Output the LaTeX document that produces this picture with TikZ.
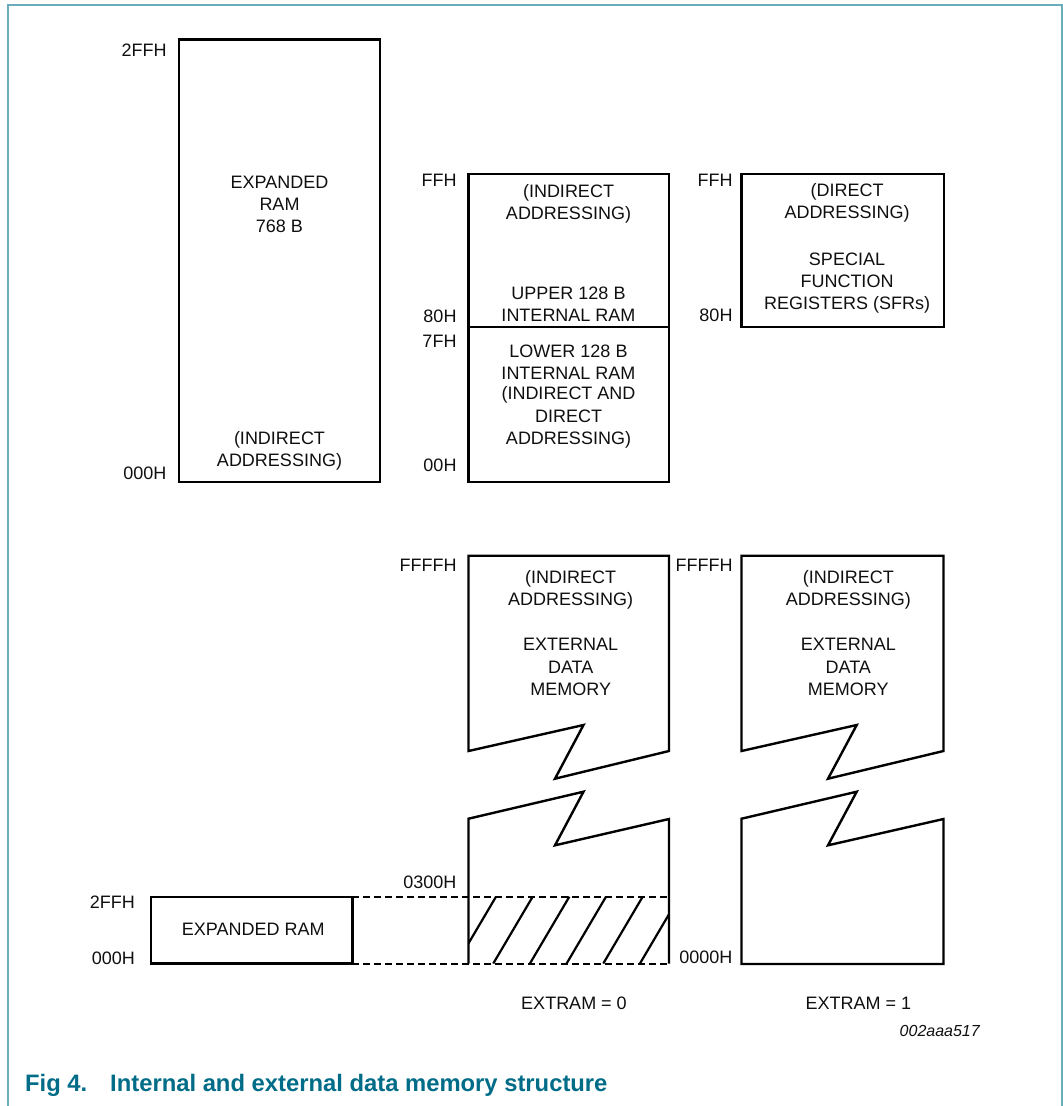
\documentclass[tikz,border=0pt]{standalone}
\usepackage{fontspec}
\setmainfont{Liberation Sans}
\definecolor{framecol}{RGB}{105,172,188}
\definecolor{capcol}{RGB}{0,108,135}
\definecolor{inkcol}{RGB}{15,15,15}
\begin{document}
\begin{tikzpicture}[x=1pt,y=-1pt,
  box/.style={draw=black,line width=2.4pt,line join=miter},
  dashln/.style={draw=black,line width=2pt,dash pattern=on 7pt off 4pt},
  hatchln/.style={draw=black,line width=2.2pt},
  lbl/.style={anchor=east,inner sep=0pt,text=inkcol,font=\fontsize{18}{22}\selectfont},
  txt/.style={align=center,inner sep=0pt,text=inkcol,font=\fontsize{18}{22.3}\selectfont},
  bottxt/.style={anchor=center,inner sep=0pt,text=inkcol,font=\fontsize{18}{20}\selectfont},
  captxt/.style={anchor=west,inner sep=0pt,text=capcol,font=\bfseries\fontsize{23.8}{26}\selectfont}]
\useasboundingbox (0,0) rectangle (1063,1106);
% frame
\draw[framecol,line width=1.8pt] (8.3,1106) -- (8.3,4.7) -- (1061.7,4.7) -- (1061.7,1106);

% ---------- expanded RAM 768 B ----------
\coordinate (e1) at (179,39.3);
\coordinate (e2) at (380,481.7);
\draw[box] (e1) rectangle (e2);
\node[txt] (etxt) at (279.5,204.5) {EXPANDED\\RAM\\768 B};
\node[txt] (eind) at (279.5,451) {(INDIRECT\\ADDRESSING)};
\node[lbl] (l2ffh) at (166.7,50) {2FFH};
\node[lbl] (l000h) at (166.7,473.3) {000H};

% ---------- internal RAM ----------
\coordinate (i1) at (468.5,174);
\coordinate (i2) at (669,481.7);
\draw[box] (i1) rectangle (i2);
\draw[box] (468.5,326.7) -- (669,326.7);
\node[txt] (iind) at (568.5,203.5) {(INDIRECT\\ADDRESSING)};
\node[txt] (iup) at (568.5,304.5) {UPPER 128 B\\INTERNAL RAM};
\node[txt] (ilow) at (568.5,362) {LOWER 128 B\\INTERNAL RAM};
\node[txt] (iid) at (568.5,417.5) {(INDIRECT AND\\DIRECT\\ADDRESSING)};
\node[lbl] (lffh1) at (456.7,180.7) {FFH};
\node[lbl] (l80h1) at (456.7,316.7) {80H};
\node[lbl] (l7fh) at (456.7,341.7) {7FH};
\node[lbl] (l00h) at (456.7,465) {00H};

% ---------- SFR ----------
\coordinate (s1) at (741.5,174);
\coordinate (s2) at (944,326.7);
\draw[box] (s1) rectangle (s2);
\node[txt] (sdir) at (847,202.5) {(DIRECT\\ADDRESSING)};
\node[txt] (ssfr) at (847,283) {SPECIAL\\FUNCTION\\REGISTERS (SFRs)};
\node[lbl] (lffh2) at (732.7,180.7) {FFH};
\node[lbl] (l80h2) at (732.7,315) {80H};

% ---------- external memory, EXTRAM = 0 ----------
\draw[box] (468.5,751) -- (468.5,555.7) -- (669,555.7) -- (669,751)
  -- (555,778.7) -- (583.5,725) -- cycle;
\draw[box] (468.5,963.5) -- (468.5,818.7) -- (583.5,791.7) -- (555,845.3)
  -- (669,819) -- (669,963.5);
\node[txt] (x0ind) at (570.7,590) {(INDIRECT\\ADDRESSING)};
\node[txt] (x0mem) at (570.7,667) {EXTERNAL\\DATA\\MEMORY};
\node[lbl] (lffffh0) at (456.7,565) {FFFFH};
\node[lbl] (l0300h) at (456.7,882.7) {0300H};
\node[bottxt] (ex0) at (574,1003.3) {EXTRAM = 0};

% hatching
\begin{scope}
  \clip (468.5,896.7) rectangle (669,963.5);
  \foreach \t in {0,1,2,3,4,5}{
    \draw[hatchln] ({496+36.67*\t},896.7) -- ({496+36.67*\t-39.4},963.5);
  }
\end{scope}

% ---------- external memory, EXTRAM = 1 ----------
\draw[box] (741.5,751) -- (741.5,555.7) -- (943.5,555.7) -- (943.5,751)
  -- (828,778.7) -- (856.7,725) -- cycle;
\draw[box] (741.5,818.7) -- (856.7,791.7) -- (828,845.3)
  -- (943.5,819) -- (943.5,964) -- (741.5,964) -- cycle;
\node[txt] (x1ind) at (848.3,590) {(INDIRECT\\ADDRESSING)};
\node[txt] (x1mem) at (848.3,667) {EXTERNAL\\DATA\\MEMORY};
\node[lbl] (lffffh1) at (732.7,565) {FFFFH};
\node[lbl] (l0000h) at (732.7,957.3) {0000H};
\node[bottxt] (ex1) at (858.3,1003.3) {EXTRAM = 1};

% ---------- small expanded RAM ----------
\coordinate (r1) at (150.7,896.7);
\coordinate (r2) at (352.3,963.5);
\coordinate (rt) at (352.3,896.7);
\coordinate (rb) at (352.3,963.5);
\coordinate (xt) at (669,896.7);
\coordinate (xb) at (669,963.5);
\draw[dashln] (rt) -- (xt);
\draw[dashln] (rb) -- (xb);
\draw[box] (r1) rectangle (r2);
\node[txt] (rtxt) at (253.3,929.5) {EXPANDED RAM};
\node[lbl] (l2ffhb) at (135,902.7) {2FFH};
\node[lbl] (l000hb) at (135,958.3) {000H};

% ---------- code and caption ----------
\node[anchor=east,inner sep=0pt,text=inkcol,font=\itshape\fontsize{16}{18}\selectfont] (code) at (980,1031) {002aaa517};
\node[captxt] (fig) at (25,1085) {Fig 4.};
\node[captxt] (title) at (110,1085) {Internal and external data memory structure};
\end{tikzpicture}
\end{document}
